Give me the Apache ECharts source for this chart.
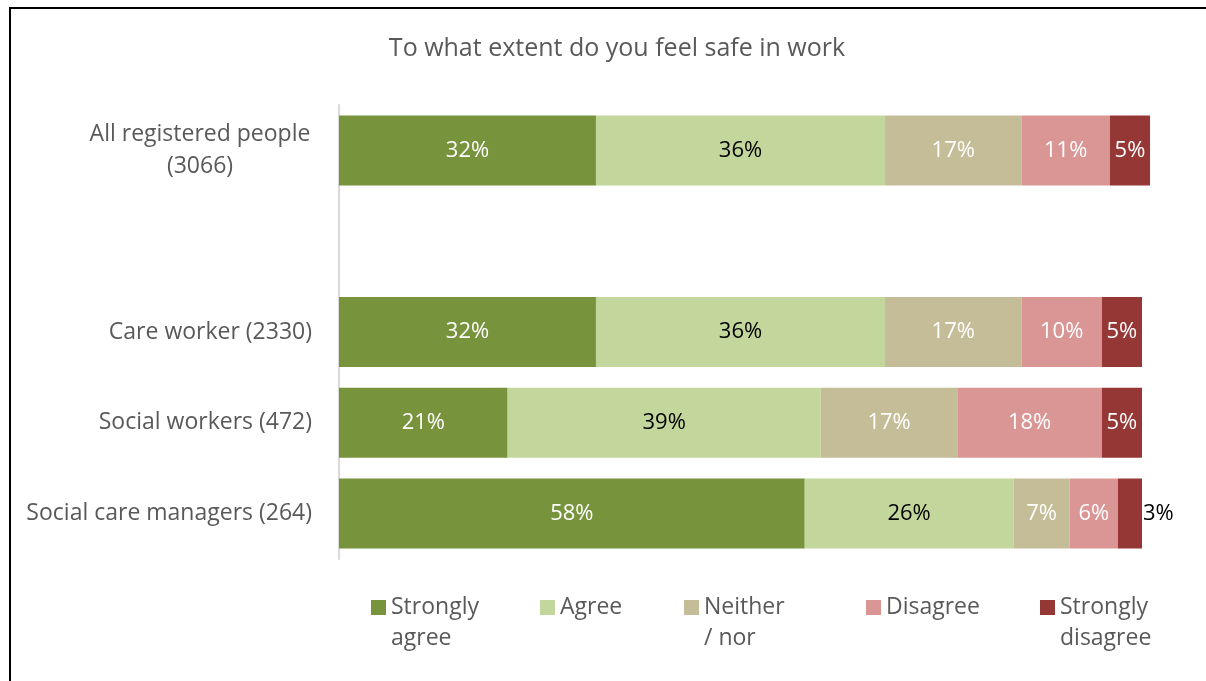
<!DOCTYPE html>
<html>
<head>
<meta charset="utf-8">
<script src="https://cdn.jsdelivr.net/npm/echarts@6/dist/echarts.min.js"></script>
<style>
  html, body { margin: 0; padding: 0; background: #fff; }
  #chart { width: 1206px; height: 681px; }
</style>
</head>
<body>
<div id="chart"></div>
<script>
// Survey groups (a blank row separates the overall figure from the breakdown)
const groups = ['All registered people\n(3066)', '', 'Care worker (2330)', 'Social workers (472)', 'Social care managers (264)'];

// Response shares, % of each group
const stronglyAgree    = [32, '-', 32, 21, 58];
const agree            = [36, '-', 36, 39, 26];
const neitherNor       = [17, '-', 17, 17, 7];
const disagree         = [11, '-', 10, 18, 6];
const stronglyDisagree = [5, '-', 5, 5, 3];

const seriesNames = ['Strongly\nagree', 'Agree', 'Neither\n/ nor', 'Disagree', 'Strongly\ndisagree'];
const seriesData = [stronglyAgree, agree, neitherNor, disagree, stronglyDisagree];
const colors = ['#77933C', '#C3D69B', '#C4BD97', '#D99694', '#953735'];
const labelColors = ['#FFFFFF', '#000000', '#FFFFFF', '#FFFFFF', '#FFFFFF'];
const legendLeft = [371, 540, 684, 866, 1040];

const FONT = 'Open Sans';
const GREY = '#595959';

// square marker sitting level with the first line of a two-line legend name
const TOP_SQUARE = 'path://M0,0L15,0L15,15L0,15Z M0,46L0.01,46L0,46Z';

const series = seriesData.map((vals, i) => ({
  name: seriesNames[i],
  type: 'bar',
  stack: 'total',
  barWidth: 70,
  clip: false,
  itemStyle: { color: colors[i] },
  label: {
    show: true,
    position: 'inside',
    color: labelColors[i],
    fontFamily: FONT,
    fontSize: 22,
    formatter: p => p.value + '%'
  },
  data: vals.map(v => {
    // the thinnest slice is labelled just outside the bar end
    if (i === 4 && v === 3) {
      return { value: v, label: { position: 'right', color: '#000000', distance: 1 } };
    }
    return v;
  })
}));

const legends = seriesNames.map((n, i) => {
  const twoLine = n.indexOf('\n') >= 0;
  return {
    data: [n],
    left: legendLeft[i] - 5,
    top: 587,
    itemWidth: 15,
    itemHeight: twoLine ? 46 : 15,
    icon: twoLine ? TOP_SQUARE : 'rect',
    align: 'left',
    itemGap: 0,
    textStyle: { color: GREY, fontFamily: FONT, fontSize: 23, lineHeight: 31 }
  };
});

const chart = echarts.init(document.getElementById('chart'), null, { renderer: 'canvas' });
chart.setOption({
  backgroundColor: '#ffffff',
  animation: false,
  title: {
    text: 'To what extent do you feel safe in work',
    left: 612,
    textAlign: 'center',
    top: 31,
    textStyle: { color: GREY, fontFamily: FONT, fontSize: 25, fontWeight: 'normal' }
  },
  legend: legends,
  grid: { left: 339, right: 64, top: 105, bottom: 122, containLabel: false },
  xAxis: {
    type: 'value',
    min: 0,
    max: 100,
    show: false
  },
  yAxis: {
    type: 'category',
    inverse: true,
    data: [
      // two-line name: lines centred on each other, block ending at the axis gap
      { value: groups[0], textStyle: { align: 'center', padding: [4, 224, 0, 0] } },
      groups[1], groups[2], groups[3], groups[4]
    ],
    axisLine: { show: true, lineStyle: { color: '#D9D9D9', width: 2 } },
    axisTick: { show: false },
    axisLabel: {
      color: GREY,
      fontFamily: FONT,
      fontSize: 23,
      lineHeight: 32,
      margin: 27,
      align: 'right'
    }
  },
  graphic: [{
    type: 'rect',
    shape: { x: 10, y: 8, width: 1220, height: 700 },
    style: { fill: 'none', stroke: '#000000', lineWidth: 2 },
    silent: true
  }],
  series: series
});
</script>
</body>
</html>
